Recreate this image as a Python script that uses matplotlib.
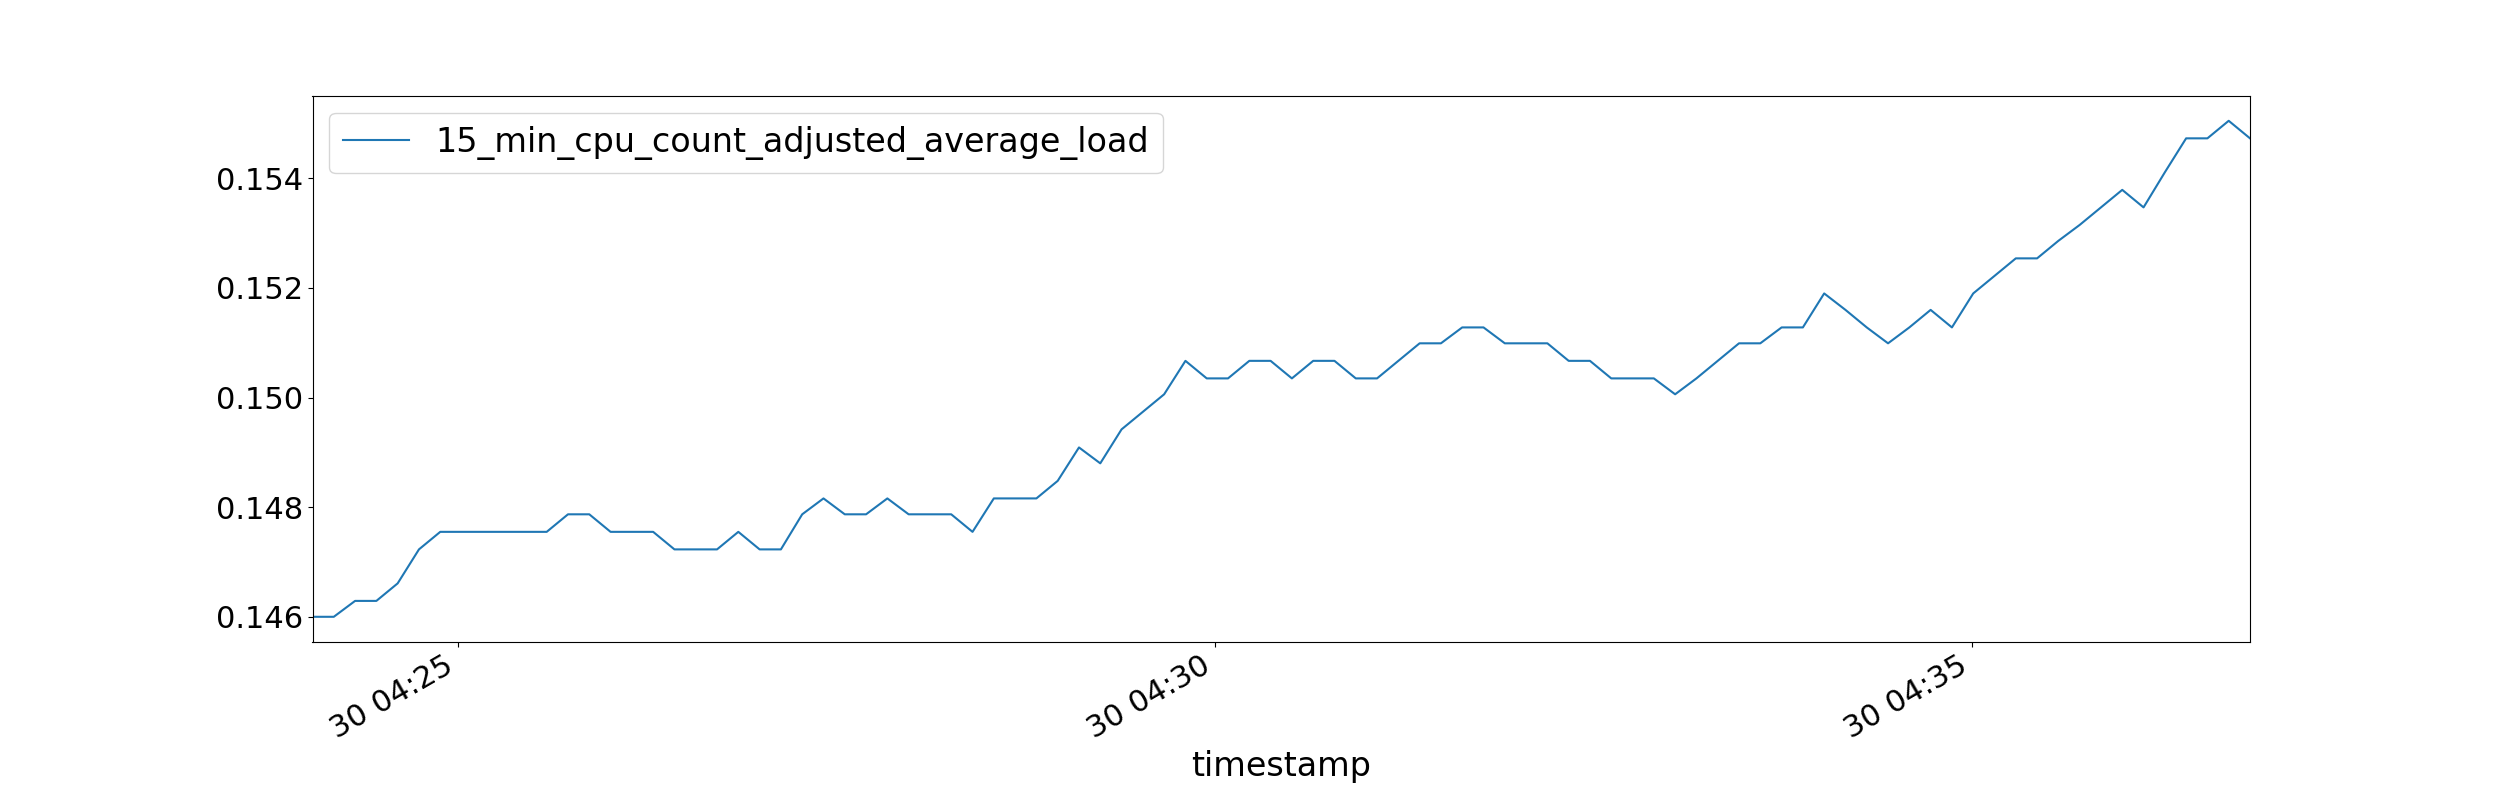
import matplotlib
matplotlib.use("Agg")
import matplotlib.pyplot as plt
import matplotlib.dates as mdates
import pandas as pd

start = "2023-01-30 04:24:02.5"
end = "2023-01-30 04:36:50"
load = [0.14600, 0.14600, 0.14629, 0.14629, 0.14661, 0.14723, 0.14755, 0.14755, 0.14755, 0.14755,
        0.14755, 0.14755, 0.14787, 0.14787, 0.14755, 0.14755, 0.14755, 0.14723, 0.14723, 0.14723,
        0.14755, 0.14723, 0.14723, 0.14787, 0.14816, 0.14787, 0.14787, 0.14816, 0.14787, 0.14787,
        0.14787, 0.14755, 0.14816, 0.14816, 0.14816, 0.14848, 0.14909, 0.14880, 0.14942, 0.14974,
        0.15006, 0.15067, 0.15035, 0.15035, 0.15067, 0.15067, 0.15035, 0.15067, 0.15067, 0.15035,
        0.15035, 0.15067, 0.15099, 0.15099, 0.15128, 0.15128, 0.15099, 0.15099, 0.15099, 0.15067,
        0.15067, 0.15035, 0.15035, 0.15035, 0.15006, 0.15035, 0.15067, 0.15099, 0.15099, 0.15128,
        0.15128, 0.15190, 0.15160, 0.15128, 0.15099, 0.15128, 0.15160, 0.15128, 0.15190, 0.15222,
        0.15254, 0.15254, 0.15286, 0.15315, 0.15347, 0.15379, 0.15347, 0.15411, 0.15473, 0.15473,
        0.15505, 0.15473]

times = pd.date_range(start, end, periods=len(load))

fig, ax = plt.subplots(figsize=(25, 8), dpi=100)
fig.subplots_adjust(left=0.125, right=0.9, top=0.88, bottom=0.198)
ax.plot(times, load, color="#1f77b4", label="15_min_cpu_count_adjusted_average_load")
ax.set_xlim(times[0], times[-1])
ax.xaxis.set_major_locator(mdates.MinuteLocator(byminute=range(0, 60, 5)))
ax.xaxis.set_major_formatter(mdates.DateFormatter("%d %H:%M"))
ax.tick_params(axis="both", labelsize=22)
for lbl in ax.get_xticklabels():
    lbl.set_rotation(30)
    lbl.set_ha("right")
ax.set_yticks([0.146, 0.148, 0.150, 0.152, 0.154])
ax.set_xlabel("timestamp", fontsize=24)
ax.legend(loc="upper left", fontsize=24)
fig.savefig("out.png")
